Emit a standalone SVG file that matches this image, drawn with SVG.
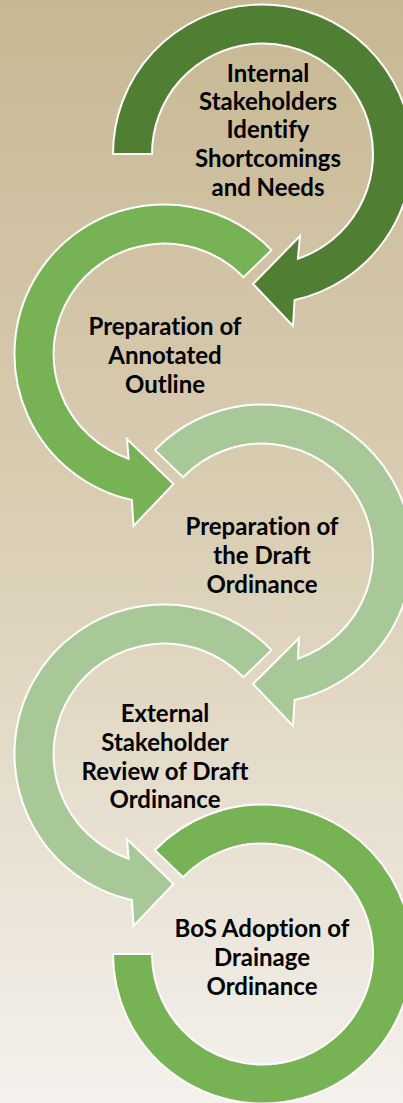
<svg xmlns="http://www.w3.org/2000/svg" width="403" height="1103" viewBox="0 0 403 1103">
  <defs>
    <linearGradient id="bg" x1="0" y1="0" x2="0" y2="1">
      <stop offset="0" stop-color="#c7b893"/>
      <stop offset="0.5" stop-color="#dbcfb6"/>
      <stop offset="1" stop-color="#f4f1ec"/>
    </linearGradient>
  </defs>
  <style>
    .ring { stroke: #ffffff; stroke-width: 2; stroke-linejoin: miter; }
    .dark { fill: #507e32; }
    .mid { fill: #77b255; }
    .light { fill: #a8c997; }
    .lbl { font-family: Lato, "Liberation Sans", sans-serif; font-weight: bold; font-size: 24px; fill: #000000; text-anchor: middle; font-variant-ligatures: none; }
  </style>
  <rect x="0" y="0" width="403" height="1103" fill="url(#bg)"/>

  <g id="step1">
    <path class="ring dark" d="M113,154 A149.5,149.5 0 1 1 294.6,300 L293,326 L253,284 L300,236 L297.9,258.7 A110.5,110.5 0 1 0 152,154 Z"/>
    <text class="lbl" x="268" y="82">Internal</text>
    <text class="lbl" x="268" y="110">Stakeholders</text>
    <text class="lbl" x="268" y="138">Identify</text>
    <text class="lbl" x="268" y="167">Shortcomings</text>
    <text class="lbl" x="268" y="196">and Needs</text>
  </g>

  <g id="step2">
    <path class="ring mid" d="M271.5,250.1 A149.5,149.5 0 1 0 131.9,500 L133.5,526 L173.5,484 L127,439 L128.6,458.7 A110.5,110.5 0 1 1 243.5,277.2 Z"/>
    <text class="lbl" x="165" y="335">Preparation of</text>
    <text class="lbl" x="165" y="364">Annotated</text>
    <text class="lbl" x="165" y="393">Outline</text>
  </g>

  <g id="step3">
    <path class="ring light" d="M155,450.1 A149.5,149.5 0 1 1 294.6,700 L293,726 L253,684 L299,638 L297.9,658.7 A110.5,110.5 0 1 0 183,477.2 Z"/>
    <text class="lbl" x="262" y="535">Preparation of</text>
    <text class="lbl" x="262" y="564">the Draft</text>
    <text class="lbl" x="262" y="593">Ordinance</text>
  </g>

  <g id="step4">
    <path class="ring light" d="M271.5,650.1 A149.5,149.5 0 1 0 131.9,900 L133.5,926 L173.5,884 L127,839 L128.6,858.7 A110.5,110.5 0 1 1 243.5,677.2 Z"/>
    <text class="lbl" x="165" y="722">External</text>
    <text class="lbl" x="165" y="751">Stakeholder</text>
    <text class="lbl" x="165" y="780">Review of Draft</text>
    <text class="lbl" x="165" y="808">Ordinance</text>
  </g>

  <g id="step5">
    <path class="ring mid" d="M155,850.1 A149.5,149.5 0 1 1 113,954 L152,954 A110.5,110.5 0 1 0 183,877.2 Z"/>
    <text class="lbl" x="262" y="937">BoS Adoption of</text>
    <text class="lbl" x="262" y="966">Drainage</text>
    <text class="lbl" x="262" y="995">Ordinance</text>
  </g>
</svg>
